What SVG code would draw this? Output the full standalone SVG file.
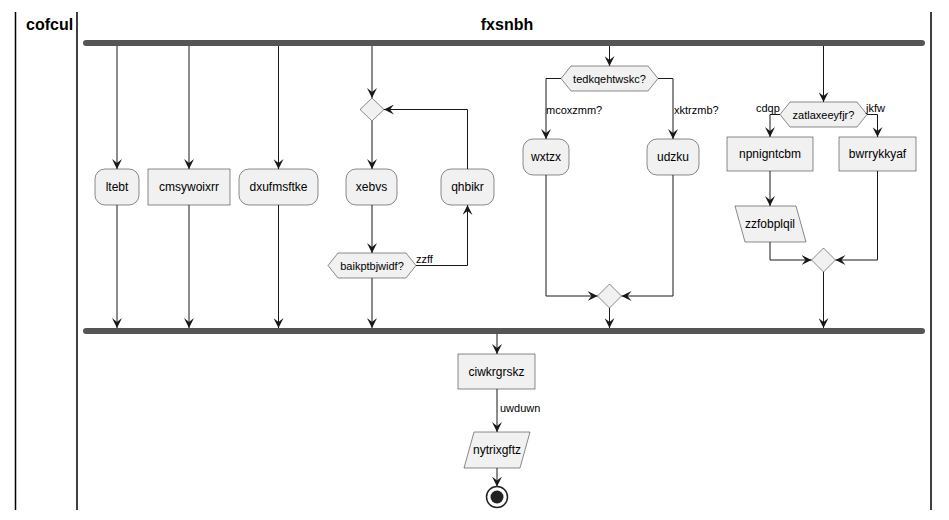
<svg xmlns="http://www.w3.org/2000/svg" width="949" height="520" viewBox="0 0 949 520">
<style>
.lane{stroke:#000;stroke-width:1.5;fill:none}
.title{font-family:"Liberation Sans",Arial,sans-serif;font-size:16px;font-weight:bold;fill:#000}
.n{fill:#F1F1F1;stroke:#181818;stroke-width:0.5}
.t{font-family:"Liberation Sans",Arial,sans-serif;font-size:12px;fill:#000;text-anchor:middle}
.d{font-family:"Liberation Sans",Arial,sans-serif;font-size:11px;fill:#000;text-anchor:middle}
.l{font-family:"Liberation Sans",Arial,sans-serif;font-size:11px;fill:#000}
.bar{fill:#555555}
.c{fill:none;stroke:#181818;stroke-width:1}
</style>
<defs>
<marker id="ah" markerWidth="11" markerHeight="10" refX="10" refY="5" orient="auto" markerUnits="userSpaceOnUse" viewBox="0 0 11 10"><path d="M0,0 L10,5 L0,10 L4,5 Z" fill="#181818"/></marker>
</defs>
<g id="lanes">
<line class="lane" x1="15.5" y1="12" x2="15.5" y2="510"/>
<line class="lane" x1="77" y1="12" x2="77" y2="510"/>
<line class="lane" x1="931" y1="12" x2="931" y2="510"/>
<text class="title" x="26" y="30">cofcul</text>
<text class="title" x="507" y="30" text-anchor="middle">fxsnbh</text>
</g>
<g id="fork"><rect class="bar" x="83" y="40" width="842" height="6" rx="3"/></g>
<g id="join"><rect class="bar" x="83" y="328" width="842" height="6" rx="3"/></g>
<g id="ltebt"><rect class="n" x="95" y="169" width="44" height="36" rx="10"/><text class="t" x="117" y="191">ltebt</text></g>
<g id="cmsywoixrr"><rect class="n" x="148" y="169" width="82" height="36"/><text class="t" x="189" y="191">cmsywoixrr</text></g>
<g id="dxufmsftke"><rect class="n" x="239" y="169" width="79" height="36" rx="10"/><text class="t" x="278.5" y="191">dxufmsftke</text></g>
<g id="loopmerge"><polygon class="n" points="372,98 384,109.5 372,121 360,109.5"/></g>
<g id="xebvs"><rect class="n" x="346" y="169" width="51" height="36" rx="10"/><text class="t" x="371.5" y="191">xebvs</text></g>
<g id="qhbikr"><rect class="n" x="441" y="169" width="53" height="36" rx="10"/><text class="t" x="467.5" y="191">qhbikr</text></g>
<g id="baikptbjwidf"><polygon class="n" points="328,265.5 338,253 406,253 416,265.5 406,278 338,278"/><text class="d" x="372" y="269.5">baikptbjwidf?</text></g>
<g id="tedkqehtwskc"><polygon class="n" points="561,78.5 571,66 648,66 658,78.5 648,91 571,91"/><text class="d" x="609.5" y="82.5">tedkqehtwskc?</text></g>
<g id="wxtzx"><rect class="n" x="523" y="139" width="46" height="36" rx="10"/><text class="t" x="546" y="161">wxtzx</text></g>
<g id="udzku"><rect class="n" x="647" y="139" width="52" height="36" rx="10"/><text class="t" x="673" y="161">udzku</text></g>
<g id="merge2"><polygon class="n" points="609.5,284 621.5,296 609.5,308 597.5,296"/></g>
<g id="zatlaxeeyfjr"><polygon class="n" points="780,114.5 790,102 857,102 867,114.5 857,127 790,127"/><text class="d" x="823.5" y="118.5">zatlaxeeyfjr?</text></g>
<g id="npnigntcbm"><rect class="n" x="727" y="137" width="86" height="34"/><text class="t" x="770" y="158">npnigntcbm</text></g>
<g id="bwrrykkyaf"><rect class="n" x="839" y="137" width="77" height="34"/><text class="t" x="877.5" y="158">bwrrykkyaf</text></g>
<g id="zzfobplqil"><polygon class="n" points="735,206 796,206 806,242 745,242"/><text class="t" x="770" y="228">zzfobplqil</text></g>
<g id="merge3"><polygon class="n" points="823.5,248 835.5,260 823.5,272 811.5,260"/></g>
<g id="ciwkrgrskz"><rect class="n" x="458" y="354" width="77" height="35"/><text class="t" x="496.5" y="376">ciwkrgrskz</text></g>
<g id="nytrixgftz"><polygon class="n" points="474,432 530,432 520,468 464,468"/><text class="t" x="497" y="454">nytrixgftz</text></g>
<g id="end"><circle cx="497" cy="497" r="10.5" fill="#fff" stroke="#222" stroke-width="1.5"/><circle cx="497" cy="497" r="6.5" fill="#222"/></g>
<g id="connectors">
<path class="c" marker-end="url(#ah)" d="M117,46 V169"/>
<path class="c" marker-end="url(#ah)" d="M117,205 V328"/>
<path class="c" marker-end="url(#ah)" d="M189,46 V169"/>
<path class="c" marker-end="url(#ah)" d="M189,205 V328"/>
<path class="c" marker-end="url(#ah)" d="M278.5,46 V169"/>
<path class="c" marker-end="url(#ah)" d="M278.5,205 V328"/>
<path class="c" marker-end="url(#ah)" d="M372,46 V98"/>
<path class="c" marker-end="url(#ah)" d="M372,121 V169"/>
<path class="c" marker-end="url(#ah)" d="M372,205 V253"/>
<path class="c" marker-end="url(#ah)" d="M416,265.5 H467.5 V205"/>
<path class="c" marker-end="url(#ah)" d="M467.5,169 V109.5 H384"/>
<path class="c" marker-end="url(#ah)" d="M372,278 V328"/>
<text class="l" x="416" y="263">zzff</text>
<path class="c" marker-end="url(#ah)" d="M609.5,46 V66"/>
<path class="c" marker-end="url(#ah)" d="M561,78.5 H546 V139"/>
<path class="c" marker-end="url(#ah)" d="M658,78.5 H673 V139"/>
<text class="l" x="546" y="113.5">mcoxzmm?</text>
<text class="l" x="674" y="113.5">xktrzmb?</text>
<path class="c" marker-end="url(#ah)" d="M546,175 V296 H597.5"/>
<path class="c" marker-end="url(#ah)" d="M673,175 V296 H621.5"/>
<path class="c" marker-end="url(#ah)" d="M609.5,308 V328"/>
<path class="c" marker-end="url(#ah)" d="M823.5,46 V102"/>
<path class="c" marker-end="url(#ah)" d="M780,114.5 H770 V137"/>
<path class="c" marker-end="url(#ah)" d="M867,114.5 H877.5 V137"/>
<text class="l" x="756" y="112">cdqp</text>
<text class="l" x="866" y="112">jkfw</text>
<path class="c" marker-end="url(#ah)" d="M770,171 V206"/>
<path class="c" marker-end="url(#ah)" d="M770,242 V260 H811.5"/>
<path class="c" marker-end="url(#ah)" d="M877.5,171 V260 H835.5"/>
<path class="c" marker-end="url(#ah)" d="M823.5,272 V328"/>
<path class="c" marker-end="url(#ah)" d="M497,334 V354"/>
<path class="c" marker-end="url(#ah)" d="M497,389 V432"/>
<text class="l" x="500" y="412">uwduwn</text>
<path class="c" marker-end="url(#ah)" d="M497,468 V486.5"/>
</g>
</svg>
